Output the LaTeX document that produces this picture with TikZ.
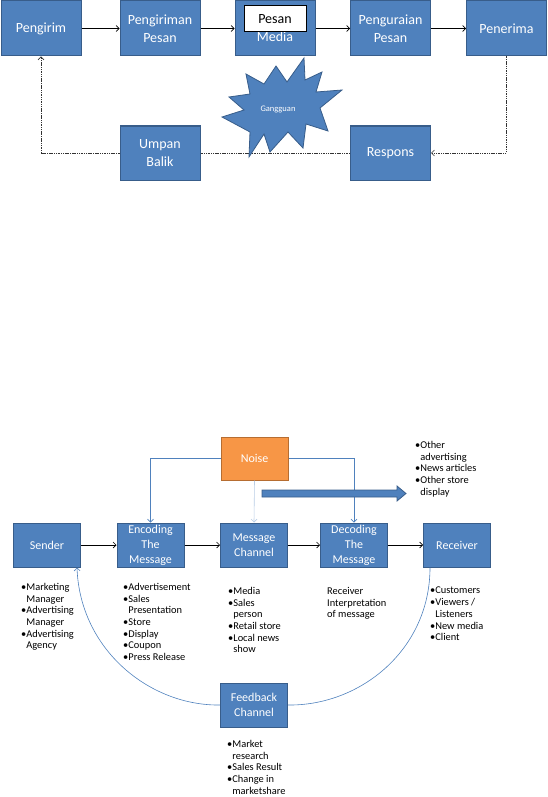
\documentclass[tikz,border=0pt]{standalone}
\usepackage{fontspec}
\setmainfont{Carlito}
\usetikzlibrary{arrows.meta,positioning}
\definecolor{boxblue}{HTML}{4F81BD}
\definecolor{boxedge}{HTML}{385D8A}
\definecolor{noiseorange}{HTML}{F79646}
\definecolor{noiseedge}{HTML}{B66D31}
\definecolor{paleblue}{HTML}{B9CDE5}

\tikzset{
  blk/.style={draw=boxedge, fill=boxblue, line width=1pt, text=white, align=center, inner sep=0pt},
  topblk/.style={blk, minimum width=80pt, minimum height=55pt, font=\fontsize{14}{17.5}\selectfont},
  lowblk/.style={blk, minimum width=67pt, minimum height=44pt, font=\fontsize{12}{15}\selectfont},
  fwdline/.style={-{Straight Barb[length=3pt,width=6pt]}, line width=0.6pt},
  retline/.style={fwdline, draw=black!80, dash pattern=on 1.5pt off 0.8pt},
  noiseline/.style={fwdline, draw=boxblue},
  arcline/.style={draw=boxblue, line width=0.6pt},
  bullist/.style={anchor=north west, align=left, inner sep=0pt, font=\fontsize{10.4}{11.7}\selectfont},
}

\begin{document}
\begin{tikzpicture}[x=1pt, y=-1pt]
    \useasboundingbox (0,0) rectangle (548,797);

    % Top model: boxes
    \node[topblk] (pengirim) at (41,28.5) {Pengirim};
    \node[topblk] (pengiriman) at (160,28.5) {Pengiriman\\Pesan};
    \node[topblk] (media) at (275,28.5) {\phantom{Pesan}\\Media};
    \node[draw=black, fill=white, line width=1pt, minimum width=62pt, minimum height=26pt,
          inner sep=0pt, font=\fontsize{14}{17.5}\selectfont] (pesan) at (275,19) {Pesan};
    \node[topblk] (penguraian) at (390.5,28.5) {Penguraian\\Pesan};
    \node[topblk] (penerima) at (506.5,28.5) {Penerima};
    \node[topblk, minimum height=54pt] (umpan) at (160,153) {Umpan\\Balik};
    \node[topblk, minimum height=54pt] (respons) at (390.5,153) {Respons};

    % Top model: connectors
    \draw[fwdline] (pengirim) -- (pengiriman);
    \draw[fwdline] (pengiriman) -- (media);
    \draw[fwdline] (media) -- (penguraian);
    \draw[fwdline] (penguraian) -- (penerima);
    \draw[retline] (penerima.south) |- (respons.east);
    \draw[retline, -] (respons.west) -- (umpan.east);
    \draw[retline] (umpan.west) -| (pengirim.south);

    % Noise star
    \draw[draw=boxedge, fill=boxblue, line width=0.8pt]
      (304,58) -- (305,80) -- (322,72) -- (316,92) -- (342,90) -- (320,108)
      -- (328,131) -- (306,124) -- (303,148) -- (288,132) -- (270,152)
      -- (264,134) -- (249,157) -- (250,132) -- (222,117) -- (244,110)
      -- (229,97) -- (250,94) -- (246,74) -- (264,84) -- (276,66) -- (287,82) -- cycle;
    \node[text=white, font=\fontsize{8.5}{10}\selectfont] (gangguan) at (278,109) {Gangguan};

    % Bottom model: boxes
    \node[blk, fill=noiseorange, draw=noiseedge, minimum width=67pt, minimum height=43pt,
          font=\fontsize{12}{15}\selectfont] (noise) at (254.5,458.5) {Noise};
    \node[lowblk] (sender) at (47,545) {Sender};
    \node[lowblk] (encoding) at (150.5,545) {Encoding\\The\\Message};
    \node[lowblk] (channel) at (254,545) {Message\\Channel};
    \node[lowblk] (decoding) at (354,545) {Decoding\\The\\Message};
    \node[lowblk] (receiver) at (457,545) {Receiver};
    \node[lowblk] (feedback) at (254,705) {Feedback\\Channel};

    % Bottom model: connectors
    \draw[fwdline] (sender) -- (encoding);
    \draw[fwdline] (encoding) -- (channel);
    \draw[fwdline] (channel) -- (decoding);
    \draw[fwdline] (decoding) -- (receiver);
    \draw[noiseline] (noise.west) -| (encoding.north);
    \draw[noiseline] (noise.east) -| (decoding.north);
    \draw[noiseline, draw=paleblue] (noise.south) -- (channel.north);

    % Thick arrow
    \draw[draw=boxedge, fill=boxblue, line width=0.8pt]
      (262,490) -- (397,490) -- (397,486) -- (406,493.5) -- (397,501) -- (397,497) -- (262,497) -- cycle;

    % Feedback arcs
    \draw[arcline, -{Straight Barb[length=3pt,width=6pt]}]
      (feedback.west) .. controls (150,706) and (80,650) .. ([xshift=-4pt]sender.south east);
    \draw[arcline] (feedback.east) .. controls (360,706) and (430,650) .. ([xshift=7pt]receiver.south west);

    % Lists
    \node[bullist] (noiselist) at (415,441) {•Other\\\phantom{•}advertising\\•News articles\\•Other store\\\phantom{•}display};
    \node[bullist] (senderlist) at (21,583) {•Marketing\\\phantom{•}Manager\\•Advertising\\\phantom{•}Manager\\•Advertising\\\phantom{•}Agency};
    \node[bullist] (encodinglist) at (123,583) {•Advertisement\\•Sales\\\phantom{•}Presentation\\•Store\\•Display\\•Coupon\\•Press Release};
    \node[bullist] (channellist) at (228,587) {•Media\\•Sales\\\phantom{•}person\\•Retail store\\•Local news\\\phantom{•}show};
    \node[bullist] (decodinglist) at (327,587) {Receiver\\Interpretation\\of message};
    \node[bullist] (receiverlist) at (430,587) {•Customers\\•Viewers /\\\phantom{•}Listeners\\•New media\\•Client};
    \node[bullist] (feedbacklist) at (227,740) {•Market\\\phantom{•}research\\•Sales Result\\•Change in\\\phantom{•}marketshare};
\end{tikzpicture}
\end{document}
